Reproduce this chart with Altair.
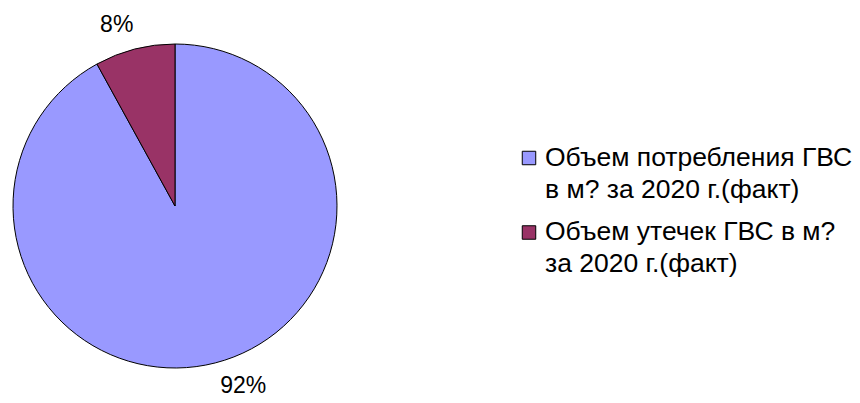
import altair as alt
import pandas as pd

categories = [
    "Объем потребления ГВС\nв м? за 2020 г.(факт)",
    "Объем утечек ГВС в м?\nза 2020 г.(факт)",
]
shares = [92, 8]
labels = ["92%", "8%"]
colors = ["#9999FF", "#993366"]
order_idx = [0, 1]

df = pd.DataFrame({"category": categories, "share": shares, "label": labels, "idx": order_idx})

FONT = "Liberation Sans"
CX, CY, R = 167, 198, 162

color_enc = alt.Color("category:N", scale=alt.Scale(domain=categories, range=colors), legend=None)

pie = alt.Chart(df).mark_arc(stroke="black", strokeWidth=1, radius=R).encode(
    theta=alt.Theta("share:Q", stack=True),
    order=alt.Order("idx:Q"),
    color=color_enc,
    x=alt.value(CX),
    y=alt.value(CY),
)


def label_layer(lbl, dx, dy):
    return alt.Chart(df).mark_text(
        radius=190, fontSize=23, font=FONT, color="black", dx=dx, dy=dy
    ).encode(
        theta=alt.Theta("share:Q", stack=True),
        order=alt.Order("idx:Q"),
        text="label:N",
        opacity=alt.condition(alt.datum.label == lbl, alt.value(1), alt.value(0)),
        x=alt.value(CX),
        y=alt.value(CY),
    )


text_big = label_layer("92%", 21, -4)
text_small = label_layer("8%", -11, 3)

ysc = alt.Scale(domain=categories, range=[150, 224.5], padding=0)

leg_sq = alt.Chart(df).mark_square(size=182, stroke="black", strokeWidth=1, opacity=1, filled=True).encode(
    y=alt.Y("category:N", scale=ysc, axis=None),
    x=alt.value(521),
    color=color_enc,
)

leg_tx = alt.Chart(df).mark_text(
    align="left", baseline="alphabetic", dy=7.5, lineBreak="\n", fontSize=26.5, lineHeight=32, font=FONT, color="black"
).encode(
    y=alt.Y("category:N", scale=ysc, axis=None),
    x=alt.value(537),
    text="category:N",
)

chart = alt.layer(pie, text_big, text_small, leg_sq, leg_tx).properties(
    width=844, height=387, autosize="none", padding=0
).configure_view(stroke=None)

chart.save("out.html", embed_options={"renderer": "svg", "actions": False})
